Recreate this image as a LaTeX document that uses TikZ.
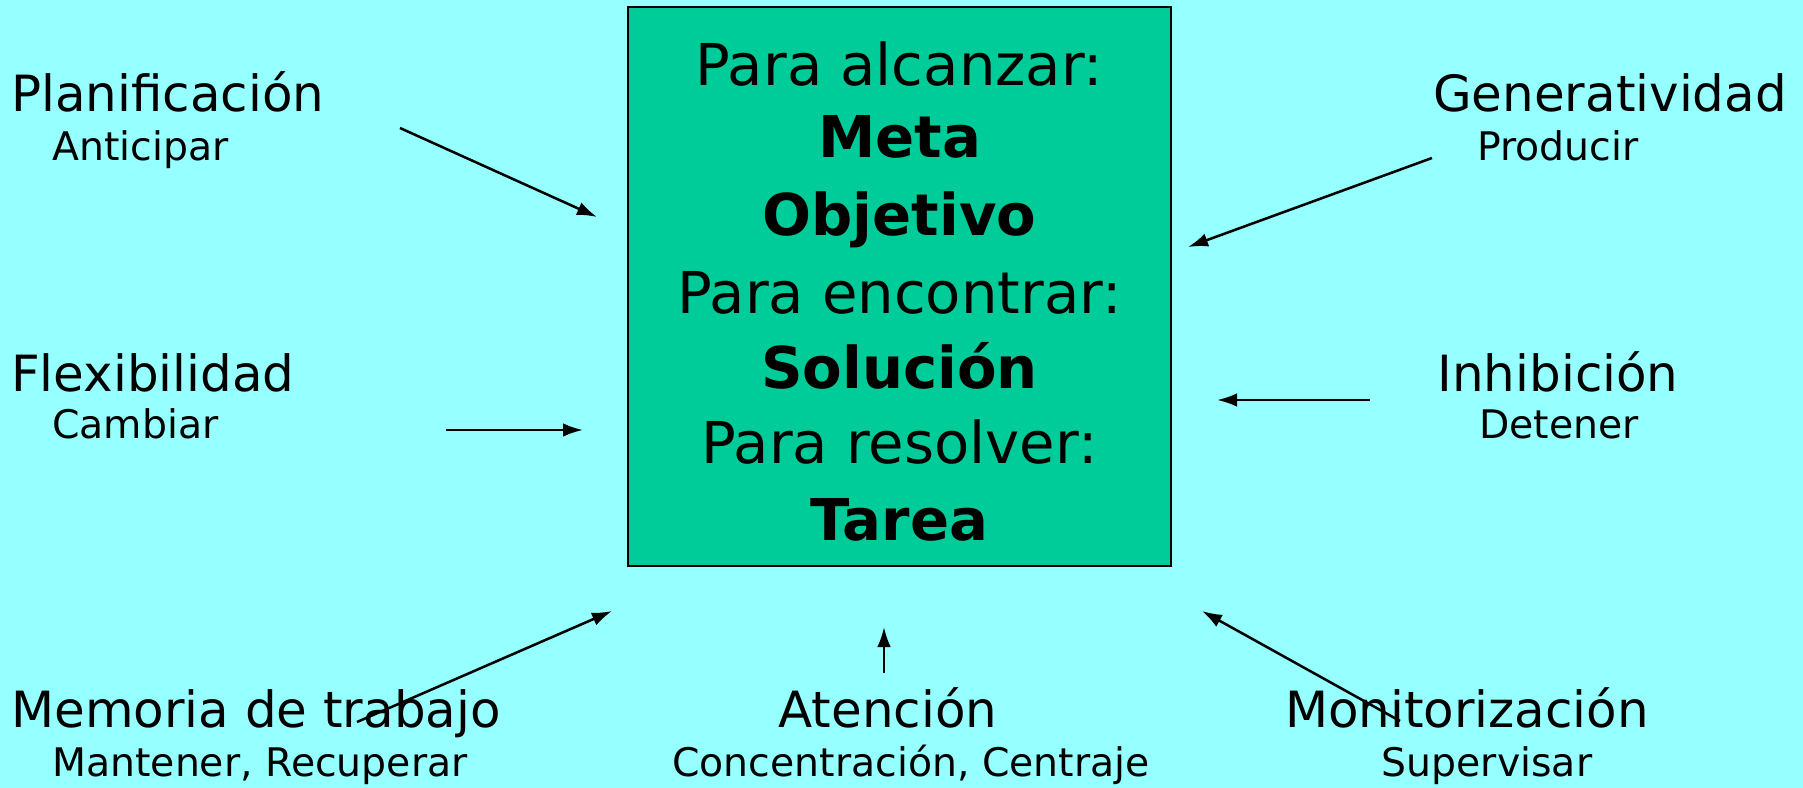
\documentclass[tikz,border=0pt]{standalone}
\usepackage{fontspec}
\setmainfont{DejaVu Sans}
\usetikzlibrary{arrows.meta}
\definecolor{fondo}{RGB}{150,255,255}
\definecolor{caja}{RGB}{0,204,153}
\tikzset{
  titulo/.style={font=\fontsize{35.5pt}{42pt}\selectfont,inner sep=0pt,anchor=base},
  sub/.style={font=\fontsize{28pt}{34pt}\selectfont,inner sep=0pt,anchor=base},
  meta/.style={font=\fontsize{41pt}{48pt}\selectfont,inner sep=0pt,anchor=base},
  flecha/.style={-{Latex[length=0.5cm,width=0.34cm]},line width=1.8pt}
}
\begin{document}
\begin{tikzpicture}[x=0.025cm,y=-0.025cm]
        %\draw (0,0) grid (1803,788);
        \fill[fondo] (0,0) rectangle (1803,788);
        \node[draw,fill=caja,line width=1.2pt,minimum width=13.575cm,minimum height=13.975cm] (caja) at (899.5,286.5) {};
        \node[meta] (l1) at (899.5,86) {Para alcanzar:};
        \node[meta] (l2) at (899.5,158) {\bfseries Meta};
        \node[meta] (l3) at (899.5,236) {\bfseries Objetivo};
        \node[meta] (l4) at (899.5,313) {Para encontrar:};
        \node[meta] (l5) at (899.5,388) {\bfseries Solución};
        \node[meta] (l6) at (899.5,463) {Para resolver:};
        \node[meta] (l7) at (899.5,540) {\bfseries Tarea};
        % izquierda
        \node[titulo,anchor=base west] (plan) at (11,112) {Planificación};
        \node[sub,anchor=base west] (plansub) at (52,161) {Anticipar};
        \node[titulo,anchor=base west] (flex) at (11,391) {Flexibilidad};
        \node[sub,anchor=base west] (flexsub) at (52,438) {Cambiar};
        \node[titulo,anchor=base west] (mem) at (11,727) {Memoria de trabajo};
        \node[sub,anchor=base west] (memsub) at (52,776) {Mantener, Recuperar};
        % abajo
        \node[titulo] (aten) at (888,727) {Atención};
        \node[sub] (atensub) at (911,776) {Concentración, Centraje};
        % derecha
        \node[titulo] (moni) at (1467,727) {Monitorización};
        \node[sub] (monisub) at (1487,776) {Supervisar};
        \node[titulo] (gen) at (1610,112) {Generatividad};
        \node[sub] (gensub) at (1558,161) {Producir};
        \node[titulo] (inhi) at (1558,391) {Inhibición};
        \node[sub] (inhisub) at (1559,438) {Detener};
        % flechas
        \coordinate (a1) at (400,128);  \coordinate (b1) at (597,217);
        \coordinate (a2) at (446,430);  \coordinate (b2) at (583,430);
        \coordinate (a3) at (357,722);  \coordinate (b3) at (612,611);
        \coordinate (a4) at (884,673);  \coordinate (b4) at (884,627);
        \coordinate (a5) at (1400,721); \coordinate (b5) at (1202,611);
        \coordinate (a6) at (1370,400); \coordinate (b6) at (1217,400);
        \coordinate (a7) at (1432,158); \coordinate (b7) at (1188,247);
        \foreach \i in {1,...,7}
            \draw[flecha] (a\i) -- (b\i);
    \end{tikzpicture}
\end{document}
